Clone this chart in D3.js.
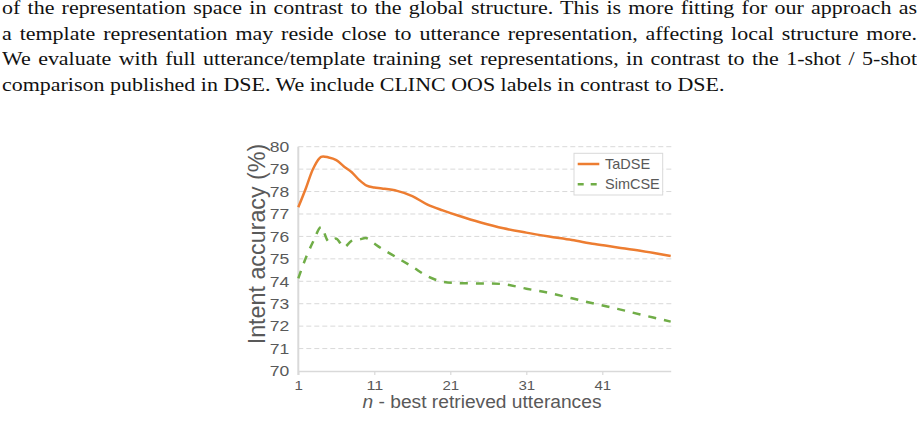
<!DOCTYPE html>
<html>
<head>
<meta charset="utf-8">
<script src="https://cdn.jsdelivr.net/npm/d3@7"></script>
<style>
  html, body { margin: 0; padding: 0; background: #fff; }
  body { width: 924px; height: 424px; position: relative; overflow: hidden; }
  .para { position: absolute; left: 2px; width: 750px; font-family: "Liberation Serif", "Times New Roman", serif;
          font-size: 18px; line-height: 14px; color: #111; white-space: nowrap;
          transform: scaleX(1.22); transform-origin: 0 0; }
  .just { text-align: justify; text-align-last: justify; white-space: normal; }
  svg { position: absolute; left: 0; top: 0; }
</style>
</head>
<body>
<div id="text"></div>
<svg id="chart" width="924" height="424"></svg>
<script>
// ---- Data ----
const paragraphLines = [
  "of the representation space in contrast to the global structure. This is more fitting for our approach as",
  "a template representation may reside close to utterance representation, affecting local structure more.",
  "We evaluate with full utterance/template training set representations, in contrast to the 1-shot / 5-shot",
  "comparison published in DSE. We include CLINC OOS labels in contrast to DSE."
];
const nValues   = [1, 2, 3, 4, 5, 6, 7, 8, 9, 10, 11, 12, 14, 16, 18, 20, 22, 25, 28, 31, 34, 37, 40, 43, 46, 50];
const tadse     = [77.3, 78.15, 79.05, 79.55, 79.52, 79.4, 79.12, 78.87, 78.52, 78.26, 78.18, 78.14, 78.03, 77.8, 77.42, 77.16, 76.93, 76.62, 76.36, 76.17, 76.0, 75.84, 75.66, 75.51, 75.36, 75.13];
const simcse    = [74.13, 75.05, 75.8, 76.42, 75.77, 75.9, 75.52, 75.8, 75.86, 75.92, 75.68, 75.45, 75.05, 74.65, 74.22, 73.98, 73.92, 73.9, 73.87, 73.67, 73.48, 73.24, 73.0, 72.77, 72.52, 72.2];
const seriesNames = ["TaDSE", "SimCSE"];
const xTicks = [1, 11, 21, 31, 41];
const yTicks = [70, 71, 72, 73, 74, 75, 76, 77, 78, 79, 80];
const xTitleItalic = "n";
const xTitleRest = " - best retrieved utterances";
const yTitle = "Intent accuracy (%)";

// ---- Paragraph ----
const baselines = [14.0, 39.6, 65.3, 91.0];
const textDiv = d3.select("#text");
paragraphLines.forEach((ln, i) => {
  textDiv.append("div")
    .attr("class", "para" + (i < paragraphLines.length - 1 ? " just" : ""))
    .style("top", (baselines[i] - 13.07) + "px")
    .text(ln);
});

// ---- Chart ----
const svg = d3.select("#chart");
const pLeft = 298.3, pRight = 670.7, pTop = 146.7, pBottom = 371;
const x = d3.scaleLinear().domain([1, 50]).range([pLeft, pRight]);
const y = d3.scaleLinear().domain([70, 80]).range([pBottom, pTop]);
const grey = "#595959";
const axisGrey = "#d9d9d9";
const sans = "Liberation Sans, Arial, sans-serif";

// gridlines
svg.append("g").selectAll("line").data(yTicks.filter(d => d > 70)).join("line")
  .attr("x1", pLeft).attr("x2", pRight + 2)
  .attr("y1", d => y(d)).attr("y2", d => y(d))
  .attr("stroke", "#d9d9d9").attr("stroke-width", 1)
  .attr("stroke-dasharray", "5,3");

// x axis
const xAxis = d3.axisBottom(x).tickValues(xTicks).tickSize(4).tickPadding(5).tickSizeOuter(0);
const gx = svg.append("g").attr("transform", `translate(0,${pBottom})`).call(xAxis);
gx.select(".domain").attr("stroke", axisGrey).attr("stroke-width", 1.5);
gx.selectAll(".tick line").attr("stroke", axisGrey).attr("stroke-width", 1.2);
gx.selectAll(".tick text").attr("fill", grey).attr("font-size", 13.5).attr("font-family", sans)
  .attr("textLength", d => String(d).length * 8.4).attr("lengthAdjust", "spacingAndGlyphs");

// y axis
const yAxis = d3.axisLeft(y).tickValues(yTicks).tickSize(0).tickPadding(9);
const gy = svg.append("g").attr("transform", `translate(${pLeft},0)`).call(yAxis);
gy.select(".domain").attr("stroke", axisGrey).attr("stroke-width", 2)
  .attr("d", `M0,${pTop}V${pBottom + 4}`);
gy.selectAll(".tick text").attr("fill", grey).attr("font-size", 15).attr("font-family", sans)
  .attr("textLength", 19.5).attr("lengthAdjust", "spacingAndGlyphs");

// lines
const lineGen = d3.line().curve(d3.curveCatmullRom.alpha(0.5))
  .x((d, i) => x(nValues[i])).y(d => y(d));
svg.append("path").datum(simcse).attr("d", lineGen)
  .attr("fill", "none").attr("stroke", "#70AD47").attr("stroke-width", 2.5)
  .attr("stroke-dasharray", "8,8");
svg.append("path").datum(tadse).attr("d", lineGen)
  .attr("fill", "none").attr("stroke", "#ED7D31").attr("stroke-width", 2.5);

// legend
const lg = svg.append("g");
lg.append("rect").attr("x", 574).attr("y", 153.3).attr("width", 88.7).attr("height", 41.7)
  .attr("fill", "#fff").attr("stroke", "#d9d9d9").attr("stroke-width", 1);
const colors = ["#ED7D31", "#70AD47"];
const dashes = [null, "6,7"];
const ly = [164, 184.3];
seriesNames.forEach((name, i) => {
  lg.append("line").attr("x1", 577.7).attr("x2", 599.3).attr("y1", ly[i]).attr("y2", ly[i])
    .attr("stroke", colors[i]).attr("stroke-width", 2.5).attr("stroke-dasharray", dashes[i]);
  lg.append("text").attr("x", 605).attr("y", ly[i] + 5).text(name)
    .attr("fill", grey).attr("font-size", 14.5).attr("font-family", sans);
});

// axis titles
const xt = svg.append("text").attr("x", 482).attr("y", 408)
  .attr("text-anchor", "middle").attr("fill", grey).attr("font-size", 17.5)
  .attr("textLength", 239).attr("lengthAdjust", "spacingAndGlyphs")
  .attr("font-family", sans);
xt.append("tspan").attr("font-style", "italic").text(xTitleItalic);
xt.append("tspan").text(xTitleRest);

svg.append("text").attr("transform", `translate(264.5,244) rotate(-90)`)
  .attr("text-anchor", "middle").attr("fill", grey).attr("font-size", 23.3)
  .attr("font-family", sans).text(yTitle);
</script>
</body>
</html>
